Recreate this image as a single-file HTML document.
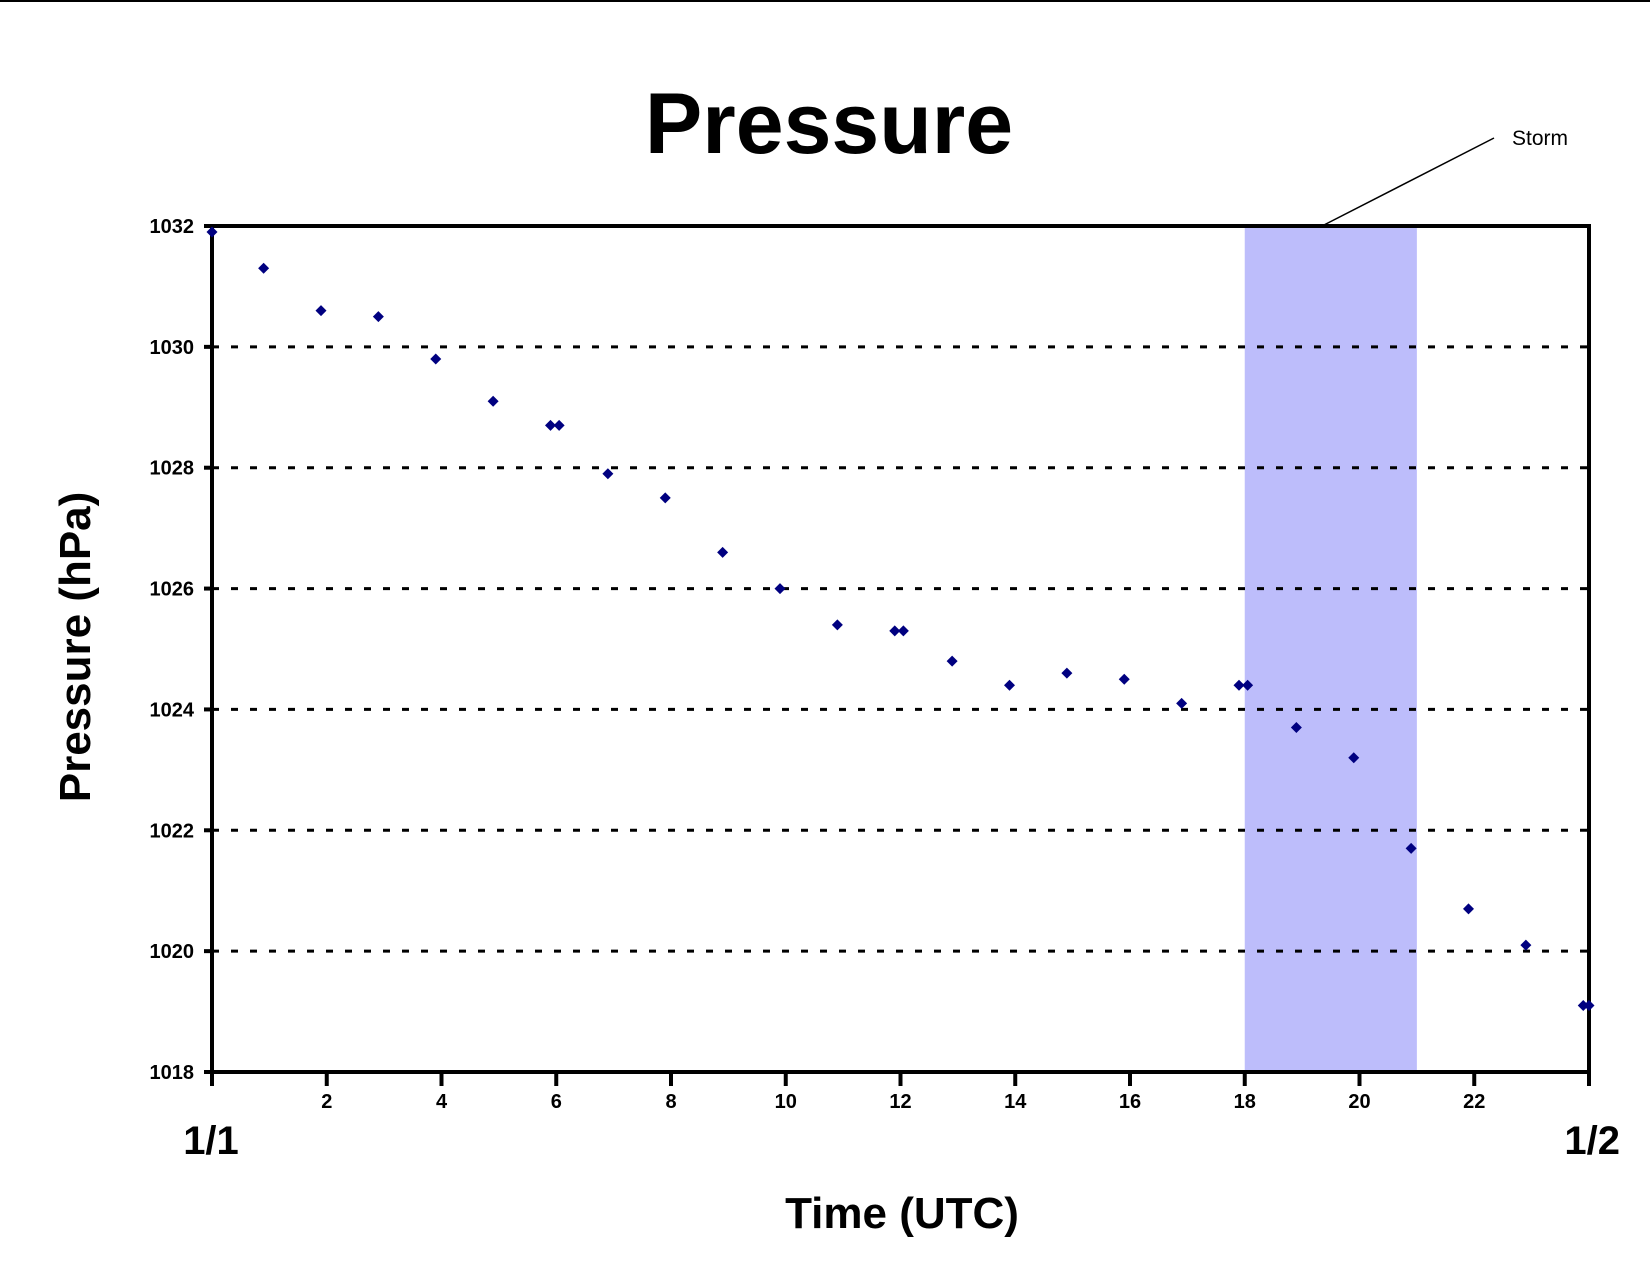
<!DOCTYPE html>
<html><head><meta charset="utf-8"><style>
body{margin:0;background:#fff;}
svg{display:block;font-family:"Liberation Sans",sans-serif;}
</style></head><body>
<svg id="chart" width="1650" height="1275" xmlns="http://www.w3.org/2000/svg">
<line x1="0" y1="1" x2="1650" y2="1" stroke="#000" stroke-width="2"/>
<text x="829" y="153" font-size="86" font-weight="bold" text-anchor="middle">Pressure</text>
<text transform="translate(90,647) rotate(-90)" font-size="44" font-weight="bold" text-anchor="middle">Pressure (hPa)</text>
<text x="902" y="1228" font-size="44" font-weight="bold" text-anchor="middle">Time (UTC)</text>
<text x="211" y="1154" font-size="40" font-weight="bold" text-anchor="middle">1/1</text>
<text x="1620" y="1154" font-size="40" font-weight="bold" text-anchor="end">1/2</text>
<g id="storm"></g>
<g id="grid"></g>
<g id="axes"></g>
<g id="points"></g>
<line x1="1494" y1="138" x2="1322" y2="226" stroke="#000" stroke-width="1.5"/>
<text x="1512" y="145" font-size="21">Storm</text>
</svg>
<script>
const times=[0,0.9,1.9,2.9,3.9,4.9,5.9,6.05,6.9,7.9,8.9,9.9,10.9,11.9,12.05,12.9,13.9,14.9,15.9,16.9,17.9,18.05,18.9,19.9,20.9,21.9,22.9,23.9,24];
const pressures=[1031.9,1031.3,1030.6,1030.5,1029.8,1029.1,1028.7,1028.7,1027.9,1027.5,1026.6,1026.0,1025.4,1025.3,1025.3,1024.8,1024.4,1024.6,1024.5,1024.1,1024.4,1024.4,1023.7,1023.2,1021.7,1020.7,1020.1,1019.1,1019.1];
const yTicks=[1018,1020,1022,1024,1026,1028,1030,1032];
const xTicks=[0,2,4,6,8,10,12,14,16,18,20,22,24];
const xTickLabels=["","2","4","6","8","10","12","14","16","18","20","22",""];
const stormStart=18, stormEnd=21;
const L=212,R=1589,T=226,B=1072;
const x=h=>L+(h/24)*(R-L);
const y=p=>B-(p-1018)/14*(B-T);
const NS="http://www.w3.org/2000/svg";
function mk(tag,attrs,parent){const e=document.createElementNS(NS,tag);for(const k in attrs)e.setAttribute(k,attrs[k]);parent.appendChild(e);return e;}
const gS=document.getElementById('storm'),gG=document.getElementById('grid'),gA=document.getElementById('axes'),gP=document.getElementById('points');
const band=mk('rect',{x:x(stormStart),y:T,width:x(stormEnd)-x(stormStart),height:B-T,fill:'#bdbdfb'},gS);


yTicks.forEach(v=>{
  if(v!==1018&&v!==1032){
    const g=mk('line',{x1:L,x2:R,y1:y(v),y2:y(v),stroke:'#000','stroke-width':3,'stroke-dasharray':'7 12'},gG);
    
    
  }
  const t=mk('line',{x1:L-8,x2:L,y1:y(v),y2:y(v),stroke:'#000','stroke-width':4},gA);
  
  
  const lb=mk('text',{x:L-18,y:y(v)+7,'font-size':20,'font-weight':'bold','text-anchor':'end'},gA);
  lb.textContent=v;
  
  
});
xTicks.forEach((h,i)=>{
  const t=mk('line',{x1:x(h),x2:x(h),y1:B,y2:B+14,stroke:'#000','stroke-width':4},gA);
  
  
  if(xTickLabels[i]){
    const lb=mk('text',{x:x(h),y:B+36,'font-size':20,'font-weight':'bold','text-anchor':'middle'},gA);
    lb.textContent=xTickLabels[i];
    
    
  }
});
const frame=mk('rect',{x:L,y:T,width:R-L,height:B-T,fill:'none',stroke:'#000','stroke-width':4},gA);


times.forEach((h,i)=>{
  const cx=x(h),cy=y(pressures[i]),s=5.5;
  const p=mk('polygon',{points:`${cx},${cy-s} ${cx+s},${cy} ${cx},${cy+s} ${cx-s},${cy}`,fill:'#000080'},gP);
  
  
});
</script>
</body></html>
